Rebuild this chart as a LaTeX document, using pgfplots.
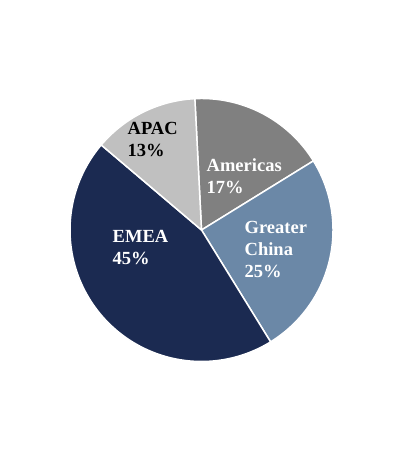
\documentclass[border=0pt]{standalone}
\usepackage{pgfplots}
\pgfplotsset{compat=1.18}
\usepackage{fontspec}
\setmainfont{Liberation Serif}
\definecolor{cAmer}{HTML}{808080}
\definecolor{cGC}{HTML}{6B88A7}
\definecolor{cEMEA}{HTML}{1B2A51}
\definecolor{cAPAC}{HTML}{C0C0C0}
% shares (percent)
\def\vAmer{17}
\def\vGC{25}
\def\vEMEA{45}
\def\vAPAC{13}
\def\cx{201.5}
\def\cy{230}
\def\rr{131.5}
\pgfmathsetmacro\aA{92.9}
\pgfmathsetmacro\aB{\aA-3.6*\vAmer}
\pgfmathsetmacro\aC{\aB-3.6*\vGC}
\pgfmathsetmacro\aD{\aC-3.6*\vEMEA}
\pgfmathsetmacro\aE{\aD-3.6*\vAPAC}
\begin{document}
\begin{tikzpicture}
\begin{axis}[
  scale only axis, width=402bp, height=460bp,
  xmin=0, xmax=402, ymin=0, ymax=460,
  axis line style={draw=none}, xtick=\empty, ytick=\empty,
  clip=false,
]
\addplot[fill=cAmer, draw=white, line width=1.5pt, line join=round, domain=\aB:\aA, samples=80, variable=\t] ({\cx+\rr*cos(\t)},{\cy+\rr*sin(\t)}) -- (axis cs:\cx,\cy) -- cycle;
\addplot[fill=cGC, draw=white, line width=1.5pt, line join=round, domain=\aC:\aB, samples=80, variable=\t] ({\cx+\rr*cos(\t)},{\cy+\rr*sin(\t)}) -- (axis cs:\cx,\cy) -- cycle;
\addplot[fill=cEMEA, draw=white, line width=1.5pt, line join=round, domain=\aD:\aC, samples=120, variable=\t] ({\cx+\rr*cos(\t)},{\cy+\rr*sin(\t)}) -- (axis cs:\cx,\cy) -- cycle;
\addplot[fill=cAPAC, draw=white, line width=1.5pt, line join=round, domain=\aE:\aD, samples=80, variable=\t] ({\cx+\rr*cos(\t)},{\cy+\rr*sin(\t)}) -- (axis cs:\cx,\cy) -- cycle;
\begin{scope}[every node/.style={anchor=west, align=left, inner sep=0pt, font=\fontsize{18.5bp}{22bp}\selectfont\bfseries}]
\node[text=black] at (axis cs:127.5,320) {APAC\\13\%};
\node[text=white] at (axis cs:206.5,284) {Americas\\17\%};
\node[text=white] at (axis cs:244.5,210.3) {Greater\\China\\25\%};
\node[text=white] at (axis cs:112.5,212.5) {EMEA\\45\%};
\end{scope}
\end{axis}
\end{tikzpicture}
\end{document}
